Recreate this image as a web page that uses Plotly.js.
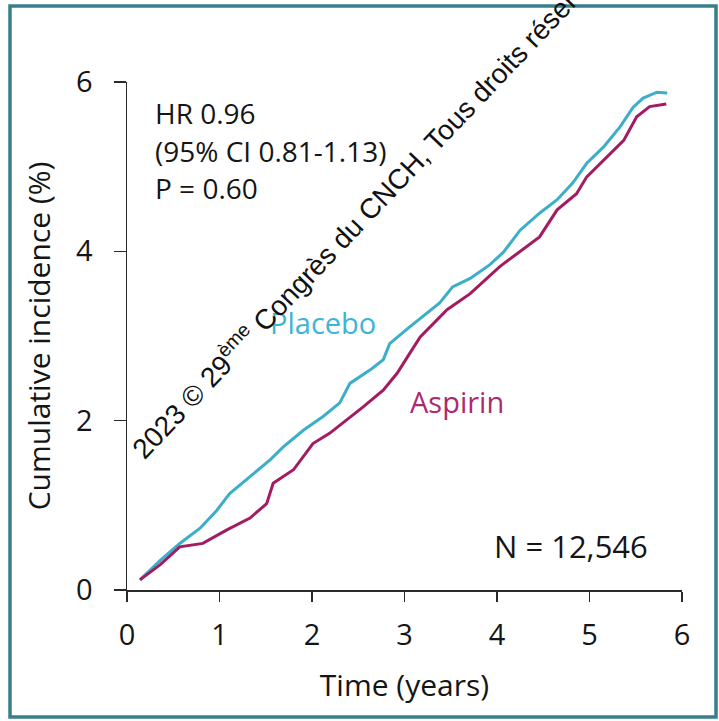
<!DOCTYPE html>
<html>
<head>
<meta charset="utf-8">
<script src="https://cdn.plot.ly/plotly-3.0.1.min.js"></script>
<style>html,body{margin:0;padding:0;background:#fff;}#chart{width:719px;height:721px;}</style>
</head>
<body>
<div id="chart"></div>
<script>
// Cumulative incidence (%) by time (years)
const placeboTime = [0.14,0.36,0.57,0.79,0.97,1.11,1.33,1.55,1.69,1.91,2.12,2.30,2.41,2.63,2.77,2.84,3.06,3.17,3.38,3.52,3.71,3.92,4.07,4.25,4.46,4.65,4.82,4.97,5.15,5.33,5.47,5.58,5.73,5.84];
const placeboInc  = [0.12,0.35,0.55,0.73,0.94,1.14,1.34,1.54,1.69,1.89,2.05,2.21,2.44,2.60,2.72,2.91,3.11,3.21,3.39,3.58,3.68,3.84,3.99,4.25,4.45,4.61,4.81,5.04,5.23,5.47,5.70,5.81,5.88,5.87];
const aspirinTime = [0.14,0.36,0.57,0.82,1.08,1.33,1.51,1.58,1.80,2.01,2.19,2.38,2.55,2.77,2.92,3.06,3.17,3.46,3.71,4.03,4.28,4.46,4.65,4.86,4.97,5.19,5.37,5.51,5.65,5.83];
const aspirinInc  = [0.12,0.30,0.51,0.55,0.71,0.85,1.02,1.26,1.42,1.73,1.85,2.01,2.16,2.36,2.56,2.80,2.99,3.31,3.50,3.82,4.02,4.17,4.49,4.68,4.88,5.12,5.31,5.59,5.71,5.74];
const xTicks = [0,1,2,3,4,5,6];
const yTicks = [0,2,4,6];
const statLines = ["HR 0.96","(95% CI 0.81-1.13)","P = 0.60"];
const nLabel = "N = 12,546";
const seriesNames = ["Placebo","Aspirin"];
const watermark = "2023 © 29<sup>ème</sup> Congrès du CNCH, Tous droits réservés";

const FONT = "'Open Sans', Lato, sans-serif";
const C_PLA = "#3aaecb";
const C_ASP = "#a31b60";

const traces = [
  {x: placeboTime, y: placeboInc, mode: "lines", name: seriesNames[0], line: {color: C_PLA, width: 3}},
  {x: aspirinTime, y: aspirinInc, mode: "lines", name: seriesNames[1], line: {color: C_ASP, width: 3}}
];

const px = v => (v - 127) / 555;
const py = v => (590 - v) / 508;
const ann = [];
const statY = [113, 151, 188];
statLines.forEach((t, i) => ann.push({xref: "paper", yref: "paper", x: px(153), y: py(statY[i]), xanchor: "left", yanchor: "middle", text: t, showarrow: false, font: {family: FONT, size: 28, color: "#151515"}}));
ann.push({xref: "paper", yref: "paper", x: px(650), y: py(546), xanchor: "right", yanchor: "middle", text: nLabel, showarrow: false, font: {family: FONT, size: 31, color: "#151515"}});
ann.push({xref: "paper", yref: "paper", x: px(268), y: py(322), xanchor: "left", yanchor: "middle", text: seriesNames[0], showarrow: false, font: {family: FONT, size: 29, color: "#3db5d6"}});
ann.push({xref: "paper", yref: "paper", x: px(408), y: py(401), xanchor: "left", yanchor: "middle", text: seriesNames[1], showarrow: false, font: {family: FONT, size: 29, color: "#ad2a6c"}});
ann.push({xref: "paper", yref: "paper", x: px(368), y: py(208), xanchor: "center", yanchor: "middle", text: watermark, textangle: -46.5, showarrow: false, font: {family: "'Liberation Sans', Arial, sans-serif", size: 28, color: "#111"}});

const layout = {
  width: 719, height: 721,
  margin: {l: 127, r: 37, t: 82, b: 131},
  paper_bgcolor: "#fff", plot_bgcolor: "#fff",
  showlegend: false,
  font: {family: FONT, color: "#151515"},
  xaxis: {range: [0, 6], tickvals: xTicks, ticktext: xTicks.map(String), showgrid: false, zeroline: false,
    showline: true, linecolor: "#2a2a2a", linewidth: 1.5, ticks: "outside", ticklen: 10, tickwidth: 1.5, tickcolor: "#2a2a2a",
    tickfont: {family: FONT, size: 29, color: "#151515"}, ticklabelstandoff: 9, fixedrange: true,
    title: {text: "Time (years)", font: {family: FONT, size: 30, color: "#151515"}, standoff: 22}},
  yaxis: {range: [0, 6], tickvals: yTicks, ticktext: yTicks.map(String), showgrid: false, zeroline: false,
    showline: true, linecolor: "#2a2a2a", linewidth: 1.5, ticks: "outside", ticklen: 12, tickwidth: 1.5, tickcolor: "#2a2a2a",
    tickfont: {family: FONT, size: 29, color: "#151515"}, ticklabelstandoff: 15, fixedrange: true,
    title: {text: "Cumulative incidence (%)", font: {family: FONT, size: 30, color: "#151515"}, standoff: 16}},
  annotations: ann,
  shapes: [{type: "rect", xref: "paper", yref: "paper", x0: px(10), x1: px(716), y0: py(717), y1: py(6),
    line: {color: "#3a7e8e", width: 3.5}, fillcolor: "rgba(0,0,0,0)"}]
};

Plotly.newPlot("chart", traces, layout, {displayModeBar: false, staticPlot: true});
</script>
</body>
</html>
